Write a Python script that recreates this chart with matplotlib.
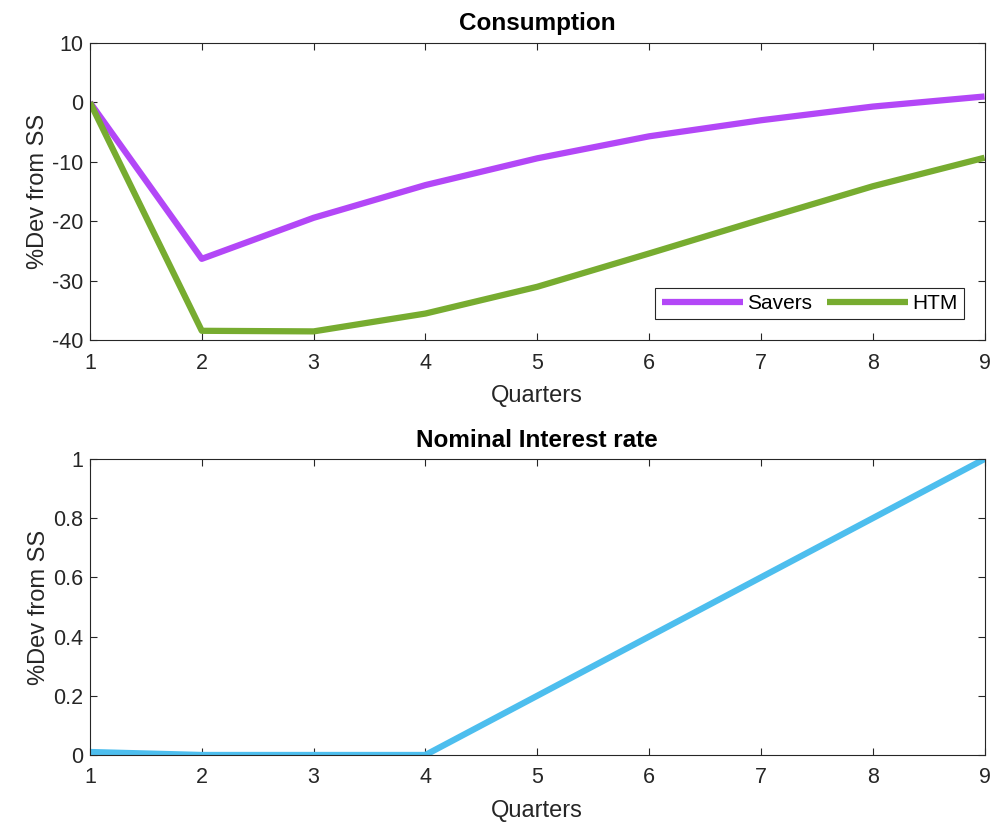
import matplotlib
matplotlib.use("Agg")
import matplotlib.pyplot as plt

quarters = [1, 2, 3, 4, 5, 6, 7, 8, 9]
savers = [0.0, -26.3, -19.4, -13.9, -9.4, -5.7, -3.0, -0.7, 1.0]
htm = [0.0, -38.4, -38.5, -35.5, -31.0, -25.4, -19.7, -14.1, -9.3]
interest = [0.01, 0.0, 0.0, 0.0, 0.2, 0.4, 0.6, 0.8, 1.0]

plt.rcParams['font.family'] = ['Liberation Sans', 'DejaVu Sans']
plt.rcParams['axes.unicode_minus'] = False

fig = plt.figure(figsize=(9.94, 8.26), dpi=100)
ax1 = fig.add_axes([0.0905, 0.588, 0.9, 0.360])
ax2 = fig.add_axes([0.0905, 0.086, 0.9, 0.3583])

c_txt = '#262626'
for ax in (ax1, ax2):
    ax.tick_params(direction='in', top=True, right=True, length=5, colors=c_txt, labelsize=15.5)
    ax.tick_params(axis='x', pad=9)
    ax.tick_params(axis='y', pad=5)
    for s in ax.spines.values():
        s.set_color(c_txt)
        s.set_linewidth(0.8)
    ax.set_xlim(1, 9)
    ax.set_xticks(quarters)
    ax.set_xlabel('Quarters', fontsize=17, color=c_txt, labelpad=8)
    ax.set_ylabel('%Dev from SS', fontsize=17, color=c_txt, labelpad=2)

ax1.plot(quarters, savers, color='#B347F7', lw=4.5, label='Savers', solid_capstyle='butt')
ax1.plot(quarters, htm, color='#77AC30', lw=4.5, label='HTM', solid_capstyle='butt')
ax1.set_ylim(-40, 10)
ax1.set_yticks([-40, -30, -20, -10, 0, 10])
ax1.set_title('Consumption', fontsize=17.5, fontweight='bold', pad=9)
leg = ax1.legend(loc='lower right', ncol=2, handlelength=3.9, fancybox=False, edgecolor=c_txt,
                 fontsize=15, borderaxespad=1.0, columnspacing=0.7, handletextpad=0.2,
                 borderpad=0.3, framealpha=1)
leg.get_frame().set_linewidth(0.8)

ax2.plot(quarters, interest, color='#4DBEEE', lw=4.5)
ax2.set_ylim(0, 1)
ax2.set_yticks([0, 0.2, 0.4, 0.6, 0.8, 1])
ax2.set_yticklabels(['0', '0.2', '0.4', '0.6', '0.8', '1'])
ax2.set_title('Nominal Interest rate', fontsize=17.5, fontweight='bold', pad=9)

fig.savefig('out.png', dpi=100)
